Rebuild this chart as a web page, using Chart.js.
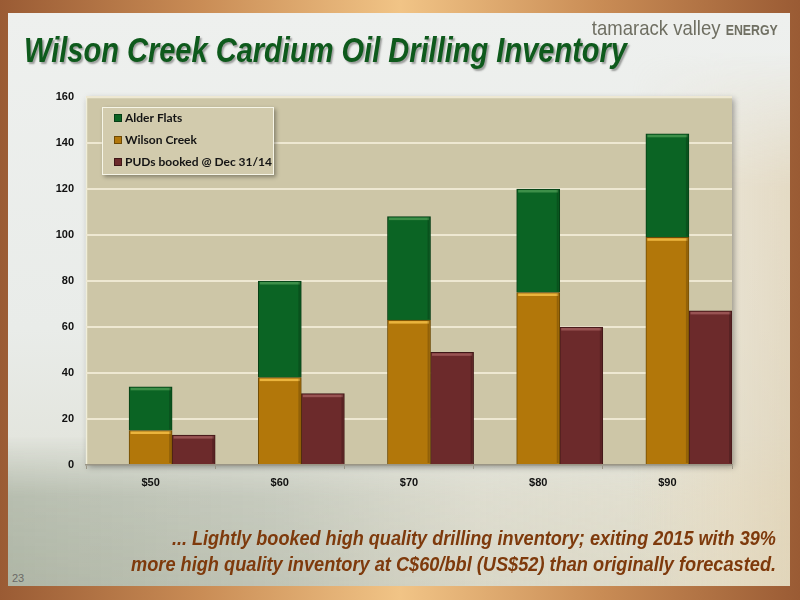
<!DOCTYPE html>
<html>
<head>
<meta charset="utf-8">
<script src="https://cdn.jsdelivr.net/npm/chart.js@4.4.1/dist/chart.umd.min.js"></script>
<style>
  html, body { margin:0; padding:0; width:800px; height:600px; overflow:hidden; }
  body {
    position:relative;
    background: linear-gradient(to right, #9a5b34 0%, #c98c55 25%, #f1c486 50%, #c98c55 75%, #9a5b34 100%);
  }
  #panel {
    position:absolute; left:8px; top:13px; width:782px; height:573px;
    background: linear-gradient(to bottom, #eef0ee 0%, #e9ece9 55%, #e2e4dc 78%, #d8d9cd 100%);
    overflow:hidden;
  }
  #photoL {
    position:absolute; left:0; bottom:0; width:782px; height:150px;
    background: linear-gradient(to right, rgba(140,152,132,0.6) 0%, rgba(165,172,155,0.5) 35%, rgba(220,212,188,0.35) 60%, rgba(236,224,196,0.55) 100%);
    -webkit-mask-image: linear-gradient(to top, rgba(0,0,0,0.9) 0%, rgba(0,0,0,0.8) 60%, rgba(0,0,0,0) 100%);
    mask-image: linear-gradient(to top, rgba(0,0,0,0.9) 0%, rgba(0,0,0,0.8) 60%, rgba(0,0,0,0) 100%);
  }
  #photoR {
    position:absolute; right:0; top:40px; width:160px; height:533px;
    background: linear-gradient(to right, rgba(236,226,205,0) 0%, rgba(230,218,192,0.6) 60%, rgba(225,210,180,0.7) 100%);
    -webkit-mask-image: linear-gradient(to bottom, rgba(0,0,0,0) 0%, rgba(0,0,0,1) 25%);
    mask-image: linear-gradient(to bottom, rgba(0,0,0,0) 0%, rgba(0,0,0,1) 25%);
  }
  .fit { position:absolute; white-space:nowrap; display:inline-block; }
  #title {
    left:24px; top:32px; font-family:"Liberation Sans",Arial,sans-serif;
    font-weight:bold; font-style:italic; font-size:35px; line-height:35px; color:#0e5a1c;
    text-shadow: 2px 2px 2px rgba(0,0,0,0.35); transform-origin:left top;
  }
  #brand {
    top:17px; font-family:"Liberation Sans",Arial,sans-serif;
    font-size:21px; line-height:21px; color:#6f6f62; transform-origin:right top;
  }
  #brand b { font-size:14px; font-weight:bold; }
  .foot {
    font-family:"Liberation Sans",Arial,sans-serif;
    font-weight:bold; font-style:italic; font-size:20px; line-height:20px; color:#7e3a0c;
    transform-origin:right top;
  }
  #pg { position:absolute; left:12px; top:572px; font-family:"Liberation Sans",Arial,sans-serif; font-size:11px; color:#6a6a66; }
  #c { position:absolute; left:0; top:0; }
</style>
</head>
<body>
<div id="panel"><div id="photoL"></div><div id="photoR"></div></div>
<div id="title" class="fit" data-w="603" data-l="24">Wilson Creek Cardium Oil Drilling Inventory</div>
<div id="brand" class="fit" data-w="186" data-r="778">tamarack valley <b>ENERGY</b></div>
<div id="f1" class="fit foot" data-w="604" data-r="776" style="top:528px;">... Lightly booked high quality drilling inventory; exiting 2015 with 39%</div>
<div id="f2" class="fit foot" data-w="645" data-r="776" style="top:554px;">more high quality inventory at C$60/bbl (US$52) than originally forecasted.</div>
<div id="pg">23</div>
<canvas id="c" width="800" height="600"></canvas>
<script>
// ---- data ----
const categories = ["$50", "$60", "$70", "$80", "$90"];
const wilsonCreek = [15, 38, 63, 75, 99];
const alderFlats = [19, 42, 45, 45, 45];
const pudsBooked = [13, 31, 49, 60, 67];
const blankSlot = [0, 0, 0, 0, 0];
const yTicks = [0, 20, 40, 60, 80, 100, 120, 140, 160];

// fit header/footer text widths
document.querySelectorAll('.fit').forEach(el => {
  const w = el.getBoundingClientRect().width;
  const target = +el.dataset.w;
  const s = target / w;
  if (el.dataset.r) {
    el.style.left = (+el.dataset.r - w) + 'px';
  }
  el.style.transform = 'scaleX(' + s + ')';
});

const COLORS = {
  alder: '#0b6424', alderB: '#063d15',
  wilson: '#b2770a', wilsonB: '#6e4a05',
  pud: '#6c2a2b', pudB: '#3f1717'
};

const plotBg = {
  id: 'plotBg',
  beforeDraw(chart) {
    const {ctx, chartArea: a} = chart;
    ctx.save();
    ctx.shadowColor = 'rgba(0,0,0,0.35)';
    ctx.shadowBlur = 6;
    ctx.shadowOffsetX = 2;
    ctx.shadowOffsetY = 2;
    ctx.fillStyle = '#cdc6a7';
    ctx.fillRect(a.left, a.top, a.right - a.left, a.bottom - a.top);
    ctx.restore();
    ctx.save();
    ctx.strokeStyle = 'rgba(255,255,240,0.7)';
    ctx.lineWidth = 1.5;
    ctx.beginPath();
    ctx.moveTo(a.left + 0.5, a.bottom);
    ctx.lineTo(a.left + 0.5, a.top + 0.5);
    ctx.lineTo(a.right, a.top + 0.5);
    ctx.stroke();
    ctx.restore();
  }
};

const bevel = {
  id: 'bevel',
  afterDatasetsDraw(chart) {
    const ctx = chart.ctx;
    chart.data.datasets.forEach((ds, i) => {
      if (!ds.hi) return;
      const meta = chart.getDatasetMeta(i);
      meta.data.forEach(el => {
        const p = el.getProps(['x', 'y', 'base', 'width'], true);
        const h = p.base - p.y;
        if (h <= 0) return;
        const l = p.x - p.width / 2, r = p.x + p.width / 2;
        ctx.save();
        ctx.fillStyle = ds.hi;
        ctx.fillRect(l + 1.5, p.y + 1, p.width - 3, Math.min(2.5, h - 2));
        ctx.fillStyle = 'rgba(0,0,0,0.18)';
        ctx.fillRect(r - 3, p.y + 1, 2, h - 2);
        ctx.restore();
      });
    });
  }
};

const boxLegend = {
  id: 'boxLegend',
  afterDraw(chart) {
    const ctx = chart.ctx;
    const x = 102, y = 107, w = 172, h = 68;
    ctx.save();
    ctx.shadowColor = 'rgba(0,0,0,0.35)';
    ctx.shadowBlur = 4;
    ctx.shadowOffsetX = 2;
    ctx.shadowOffsetY = 2;
    ctx.fillStyle = '#d2cbad';
    ctx.fillRect(x, y, w, h);
    ctx.restore();
    ctx.save();
    ctx.strokeStyle = 'rgba(255,255,245,0.8)';
    ctx.lineWidth = 1;
    ctx.strokeRect(x + 0.5, y + 0.5, w - 1, h - 1);
    const order = [2, 1, 3];
    ctx.font = 'bold 12px Lato, "Open Sans", sans-serif';
    ctx.textBaseline = 'middle';
    order.forEach((di, k) => {
      const ds = chart.data.datasets[di];
      const cy = 118 + k * 22;
      ctx.fillStyle = ds.borderColor;
      ctx.fillRect(114, cy - 4, 8, 8);
      ctx.fillStyle = ds.backgroundColor;
      ctx.fillRect(115, cy - 3, 6, 6);
      ctx.fillStyle = '#141414';
      ctx.fillText(ds.label, 125, cy);
    });
    ctx.restore();
  }
};

new Chart(document.getElementById('c'), {
  type: 'bar',
  data: {
    labels: categories,
    datasets: [
      { label: '', data: blankSlot, stack: 'blank', backgroundColor: 'rgba(0,0,0,0)', borderWidth: 0 },
      { label: 'Wilson Creek', data: wilsonCreek, stack: 'wc', backgroundColor: COLORS.wilson, borderColor: COLORS.wilsonB, borderWidth: 1, hi: 'rgba(245,190,70,0.85)' },
      { label: 'Alder Flats', data: alderFlats, stack: 'wc', backgroundColor: COLORS.alder, borderColor: COLORS.alderB, borderWidth: 1, hi: 'rgba(70,150,80,0.85)' },
      { label: 'PUDs booked @ Dec 31/14', data: pudsBooked, stack: 'pud', backgroundColor: COLORS.pud, borderColor: COLORS.pudB, borderWidth: 1, hi: 'rgba(160,90,90,0.85)' }
    ]
  },
  options: {
    responsive: false,
    animation: false,
    devicePixelRatio: 1,
    layout: { padding: { top: 97, right: 68, bottom: 105, left: 0 } },
    datasets: { bar: { categoryPercentage: 1.0, barPercentage: 1.0 } },
    plugins: { legend: { display: false }, tooltip: { enabled: false } },
    scales: {
      x: {
        stacked: true,
        offset: true,
        afterFit: s => { s.height = 30; },
        grid: { display: true, drawOnChartArea: false, drawTicks: true, tickLength: 4, offset: true, color: '#9a9585' },
        border: { display: true, color: '#9a9585', width: 1.5 },
        ticks: { color: '#111', padding: 7, font: { family: '"Liberation Sans", Arial, sans-serif', weight: 'bold', size: 11 } }
      },
      y: {
        stacked: true,
        min: 0, max: 160,
        afterFit: s => { s.width = 86; },
        afterBuildTicks: s => { s.ticks = yTicks.map(v => ({ value: v })); },
        grid: { drawTicks: false, lineWidth: 2, color: c => c.tick && c.tick.value === 0 ? 'rgba(0,0,0,0)' : '#eee8d2' },
        border: { display: false },
        ticks: { color: '#111', padding: 12, font: { family: '"Liberation Sans", Arial, sans-serif', weight: 'bold', size: 11 } }
      }
    }
  },
  plugins: [plotBg, bevel, boxLegend]
});
</script>
</body>
</html>
